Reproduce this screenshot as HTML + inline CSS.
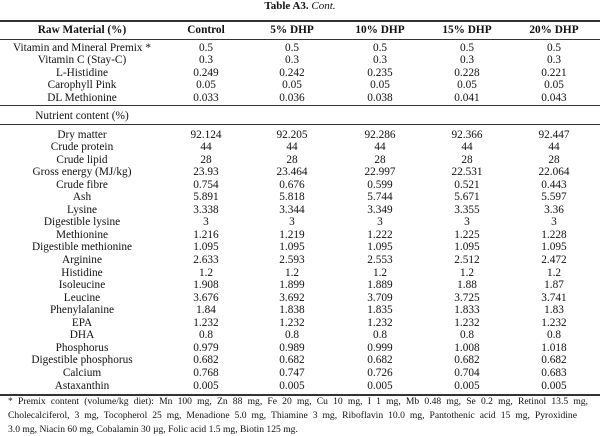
<!DOCTYPE html>
<html><head><meta charset="utf-8">
<style>
html,body{margin:0;padding:0;background:#fff;}
body{width:600px;height:436px;position:relative;overflow:hidden;font-family:"Liberation Serif",serif;color:#111;font-size:11.3px;}
.title{position:absolute;top:0;left:0;width:600px;text-align:center;font-size:11px;line-height:13px;}
.rule{position:absolute;left:0;width:600px;background:#333;}
.row{position:absolute;left:0;width:600px;height:13px;line-height:13px;}
.c{position:absolute;top:0;text-align:center;white-space:nowrap;}
.note{position:absolute;left:8px;width:580px;font-size:9.6px;line-height:12px;white-space:nowrap;text-align:justify;text-align-last:justify;}
</style></head><body>
<div class="title"><b>Table A3.</b> <i>Cont.</i></div>
<div class="rule" style="top:20px;height:1.5px"></div>
<div class="rule" style="top:39px;height:1px"></div>
<div class="rule" style="top:105px;height:1px"></div>
<div class="rule" style="top:124px;height:1px"></div>
<div class="rule" style="top:394px;height:1.5px"></div>
<div id="tbl"></div>
<div class="note" style="top:396px">* Premix content (volume/kg diet): Mn 100 mg, Zn 88 mg, Fe 20 mg, Cu 10 mg, I 1 mg, Mb 0.48 mg, Se 0.2 mg, Retinol 13.5 mg,</div>
<div class="note" style="top:410px;width:569px">Cholecalciferol, 3 mg, Tocopherol 25 mg, Menadione 5.0 mg, Thiamine 3 mg, Riboflavin 10.0 mg, Pantothenic acid 15 mg, Pyroxidine</div>
<div class="note" style="top:424px;text-align-last:left">3.0 mg, Niacin 60 mg, Cobalamin 30 µg, Folic acid 1.5 mg, Biotin 125 mg.</div>
<script>
const centers=[82,206,292,380,467,554];
const headers=["Raw Material (%)","Control","5% DHP","10% DHP","15% DHP","20% DHP"];
const rawRows=[
["Vitamin and Mineral Premix *","0.5","0.5","0.5","0.5","0.5"],
["Vitamin C (Stay-C)","0.3","0.3","0.3","0.3","0.3"],
["L-Histidine","0.249","0.242","0.235","0.228","0.221"],
["Carophyll Pink","0.05","0.05","0.05","0.05","0.05"],
["DL Methionine","0.033","0.036","0.038","0.041","0.043"]];
const nutRows=[
["Dry matter","92.124","92.205","92.286","92.366","92.447"],
["Crude protein","44","44","44","44","44"],
["Crude lipid","28","28","28","28","28"],
["Gross energy (MJ/kg)","23.93","23.464","22.997","22.531","22.064"],
["Crude fibre","0.754","0.676","0.599","0.521","0.443"],
["Ash","5.891","5.818","5.744","5.671","5.597"],
["Lysine","3.338","3.344","3.349","3.355","3.36"],
["Digestible lysine","3","3","3","3","3"],
["Methionine","1.216","1.219","1.222","1.225","1.228"],
["Digestible methionine","1.095","1.095","1.095","1.095","1.095"],
["Arginine","2.633","2.593","2.553","2.512","2.472"],
["Histidine","1.2","1.2","1.2","1.2","1.2"],
["Isoleucine","1.908","1.899","1.889","1.88","1.87"],
["Leucine","3.676","3.692","3.709","3.725","3.741"],
["Phenylalanine","1.84","1.838","1.835","1.833","1.83"],
["EPA","1.232","1.232","1.232","1.232","1.232"],
["DHA","0.8","0.8","0.8","0.8","0.8"],
["Phosphorus","0.979","0.989","0.999","1.008","1.018"],
["Digestible phosphorus","0.682","0.682","0.682","0.682","0.682"],
["Calcium","0.768","0.747","0.726","0.704","0.683"],
["Astaxanthin","0.005","0.005","0.005","0.005","0.005"]];
const tbl=document.getElementById('tbl');
function addRow(cells,cy,bold,name){
  const r=document.createElement('div');
  r.className='row';
  r.style.top=(cy-6.5)+'px';
  
  
  cells.forEach((t,i)=>{
    const c=document.createElement('div');
    c.className='c';
    c.style.left=(centers[i]-100)+'px';
    c.style.width='200px';
    if(bold) c.style.fontWeight='bold';
    c.textContent=t;
    
    
    r.appendChild(c);
  });
  tbl.appendChild(r);
}
addRow(headers,30,true,'header-row');
rawRows.forEach((row,i)=>addRow(row,48+i*12.6,false,'raw-row-'+row[0].toLowerCase().replace(/[^a-z0-9]+/g,'-')));
addRow(["Nutrient content (%)","","","","",""],116,false,'nutrient-section-label');
nutRows.forEach((row,i)=>addRow(row,135+i*12.55,false,'nutrient-row-'+row[0].toLowerCase().replace(/[^a-z0-9]+/g,'-')));
</script>
</body></html>
